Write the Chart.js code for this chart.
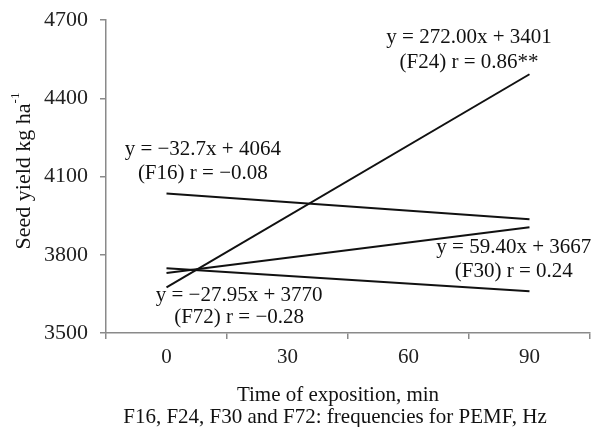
<!DOCTYPE html>
<html>
<head>
<meta charset="utf-8">
<script src="https://cdn.jsdelivr.net/npm/chart.js@4.4.1/dist/chart.umd.min.js"></script>
<style>
  body { margin: 0; background: #fff; }
  #wrap { width: 596px; height: 427px; }
</style>
</head>
<body>
<div id="wrap"><canvas id="seedChart" width="596" height="427"></canvas></div>
<script>
// exposure time (min)
const times = ["0", "30", "60", "90"];
const yTicks = [3500, 3800, 4100, 4400, 4700];

// fitted lines, read at 0 and 90 min
const f16 = [4035, null, null, 3936];
const f24 = [3675, null, null, 4492];
const f30 = [3730, null, null, 3905];
const f72 = [3748, null, null, 3660];

const eqTexts = ["y = \u221232.7x + 4064", "y = 272.00x + 3401", "y = 59.40x + 3667", "y = \u221227.95x + 3770"];
const rTexts = ["(F16) r = \u22120.08", "(F24) r = 0.86**", "(F30) r = 0.24", "(F72) r = \u22120.28"];

const serif = "'Liberation Serif', 'Times New Roman', serif";
const axisGrey = "#8a8a8a";

// where each equation sits (category index, value of first line, value of second line)
const notes = [
  { x: 0.3, y1: 4205, y2: 4112 },
  { x: 2.5, y1: 4633, y2: 4537 },
  { x: 2.87, y1: 3828, y2: 3736 },
  { x: 0.6, y1: 3644, y2: 3558 }
];

const labelsPlugin = {
  id: "labels",
  afterDraw(chart) {
    const ctx = chart.ctx;
    const xs = chart.scales.x, ys = chart.scales.y;
    ctx.save();
    ctx.fillStyle = "#111";
    ctx.font = "21px " + serif;
    ctx.textAlign = "center";
    ctx.textBaseline = "middle";
    notes.forEach(function (n, i) {
      const px = xs.getPixelForValue(n.x);
      ctx.fillText(eqTexts[i], px, ys.getPixelForValue(n.y1));
      ctx.fillText(rTexts[i], px, ys.getPixelForValue(n.y2));
    });

    // x axis titles
    const cx = (chart.chartArea.left + chart.chartArea.right) / 2;
    ctx.font = "21px " + serif;
    ctx.fillText("Time of exposition, min", cx - 10, 395);
    ctx.fillText("F16, F24, F30 and F72: frequencies for PEMF, Hz", cx - 13, 417);

    // y axis title with superscript
    ctx.translate(24, 171);
    ctx.rotate(-Math.PI / 2);
    ctx.font = "22px " + serif;
    const main = "Seed yield kg ha";
    const w1 = ctx.measureText(main).width;
    ctx.font = "13px " + serif;
    const w2 = ctx.measureText("-1").width;
    ctx.textAlign = "left";
    ctx.font = "22px " + serif;
    ctx.fillText(main, -(w1 + w2) / 2, 0);
    ctx.font = "13px " + serif;
    ctx.fillText("-1", -(w1 + w2) / 2 + w1, -8);
    ctx.restore();
  }
};

function lineSet(data) {
  return {
    data: data,
    borderColor: "#111",
    borderWidth: 2,
    pointRadius: 0,
    spanGaps: true,
    tension: 0
  };
}

new Chart(document.getElementById("seedChart"), {
  type: "line",
  data: {
    labels: times,
    datasets: [lineSet(f16), lineSet(f24), lineSet(f30), lineSet(f72)]
  },
  options: {
    responsive: false,
    animation: false,
    layout: { padding: { top: 20, right: 6, left: 0, bottom: 0 } },
    plugins: { legend: { display: false }, tooltip: { enabled: false } },
    scales: {
      x: {
        type: "category",
        offset: true,
        afterFit: function (s) { s.height = 94; },
        grid: { offset: true, drawOnChartArea: false, drawTicks: true, tickLength: 6, color: axisGrey, lineWidth: 1.5 },
        border: { color: axisGrey, width: 1.5 },
        ticks: { color: "#222", font: { family: serif, size: 21 }, padding: 6 }
      },
      y: {
        min: 3500,
        max: 4700,
        afterFit: function (s) { s.width = 106; s.paddingTop = 0; s.paddingBottom = 0; },
        afterBuildTicks: function (s) { s.ticks = yTicks.map(function (v) { return { value: v }; }); },
        grid: { drawOnChartArea: false, drawTicks: true, tickLength: 6, color: axisGrey, lineWidth: 1.5 },
        border: { color: axisGrey, width: 1.5 },
        ticks: {
          color: "#222",
          font: { family: serif, size: 22 },
          padding: 12,
          callback: function (v) { return String(v); }
        }
      }
    }
  },
  plugins: [labelsPlugin]
});
</script>
</body>
</html>
